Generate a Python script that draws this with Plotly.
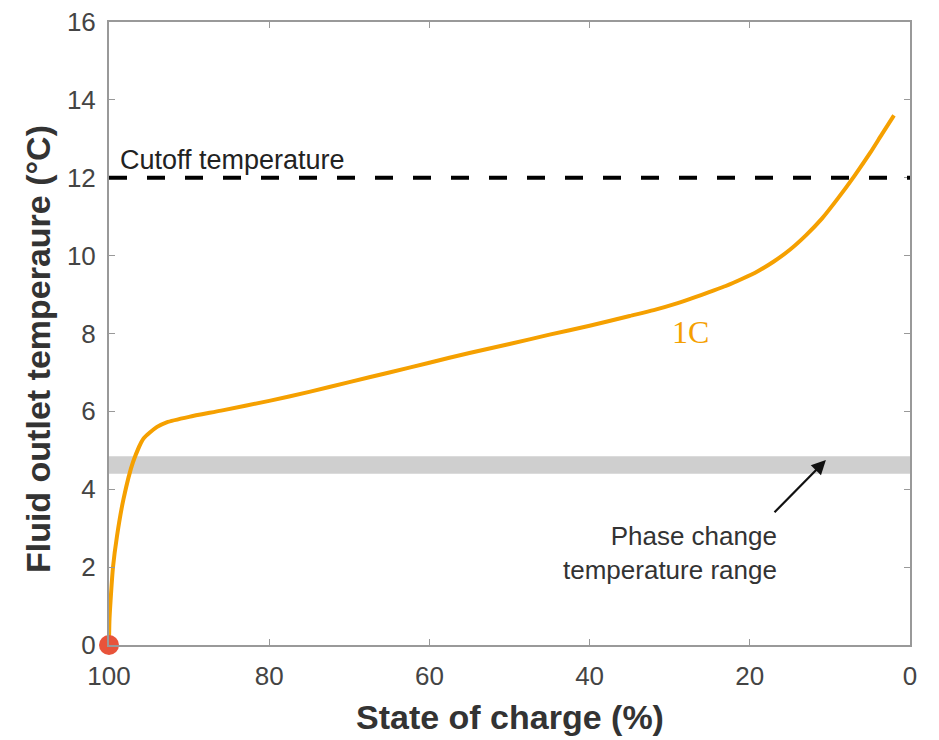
import plotly.graph_objects as go

soc = [100, 99.95, 99.8, 99.5, 99.0, 98.2, 97.0, 95.7, 94.0, 92.8, 90, 86, 80, 75, 70, 65, 60, 55,
       50, 45, 40, 35, 32, 29, 27, 25, 23, 21, 19, 17, 15, 13, 11, 9, 7, 5, 3.5, 2]
temp = [0, 0.6, 1.15, 2.0, 2.8, 3.74, 4.7, 5.3, 5.6, 5.72, 5.86, 6.02, 6.27, 6.5, 6.75, 7.0, 7.25, 7.5,
        7.73, 7.97, 8.2, 8.45, 8.6, 8.78, 8.92, 9.07, 9.22, 9.4, 9.6, 9.85, 10.15, 10.52, 10.95, 11.47,
        12.03, 12.63, 13.12, 13.6]

start_soc = [100]
start_temp = [0]

cutoff_temp = 12
phase_low, phase_high = 4.4, 4.85

x_ticks = [100, 80, 60, 40, 20, 0]
y_ticks = [0, 2, 4, 6, 8, 10, 12, 14, 16]

fig = go.Figure()

fig.add_shape(type="rect", xref="x", yref="y", x0=100, x1=0, y0=phase_low, y1=phase_high,
              fillcolor="#cfcfcf", line_width=0, layer="below")
fig.add_shape(type="line", xref="x", yref="y", x0=100, x1=0, y0=cutoff_temp, y1=cutoff_temp,
              line=dict(color="black", width=4, dash="18px,20px"))

fig.add_trace(go.Scatter(x=soc, y=temp, mode="lines",
                         line=dict(color="#F5A000", width=4, shape="spline", smoothing=0.6),
                         showlegend=False, hoverinfo="skip"))
fig.add_trace(go.Scatter(x=start_soc, y=start_temp, mode="markers", marker=dict(color="#E8533A", size=20),
                         cliponaxis=False, showlegend=False))

font_text = "Liberation Sans, Arial, sans-serif"

fig.add_annotation(x=98.9, y=12.45, text="Cutoff temperature", showarrow=False, xanchor="left",
                   font=dict(family=font_text, size=27, color="#222"))
fig.add_annotation(x=27.4, y=8.04, text="1C", showarrow=False,
                   font=dict(family="Liberation Serif, serif", size=32, color="#F5A000"))
fig.add_annotation(x=16.4, y=2.37, text="Phase change<br>temperature range", showarrow=False,
                   xanchor="right", align="right",
                   font=dict(family=font_text, size=26, color="#333"))
fig.add_annotation(x=10.5, y=4.75, ax=17.1, ay=3.37, xref="x", yref="y", axref="x", ayref="y",
                   text="", showarrow=True, arrowhead=2, arrowsize=1.3, arrowwidth=2.2, arrowcolor="#111")

# axis titles
fig.add_annotation(x=0.5, y=0, xref="paper", yref="paper", yshift=-72, yanchor="middle",
                   text="<b>State of charge (%)</b>", showarrow=False,
                   font=dict(family=font_text, size=34, color="#333"))
fig.add_annotation(x=0, y=0.475, xref="paper", yref="paper", xshift=-71, xanchor="center",
                   yanchor="middle", textangle=-90,
                   text="<b>Fluid outlet temperaure (°C)</b>", showarrow=False,
                   font=dict(family=font_text, size=34, color="#333"))

axis_common = dict(showline=True, linecolor="#999", linewidth=2, mirror="ticks", ticks="inside",
                   ticklen=6, tickcolor="#999", showgrid=False, zeroline=False, automargin=False,
                   ticklabeloverflow="allow",
                   tickfont=dict(family=font_text, size=26, color="#444"))

fig.update_xaxes(range=[100, 0], tickvals=x_ticks, ticklabelstandoff=7, **axis_common)
fig.update_yaxes(range=[0, 16], tickvals=y_ticks, ticklabelstandoff=6, **axis_common)

fig.update_layout(width=939, height=740, plot_bgcolor="white", paper_bgcolor="white",
                  margin=dict(l=101, r=37, t=14, b=103))

fig.write_html("out.html")
